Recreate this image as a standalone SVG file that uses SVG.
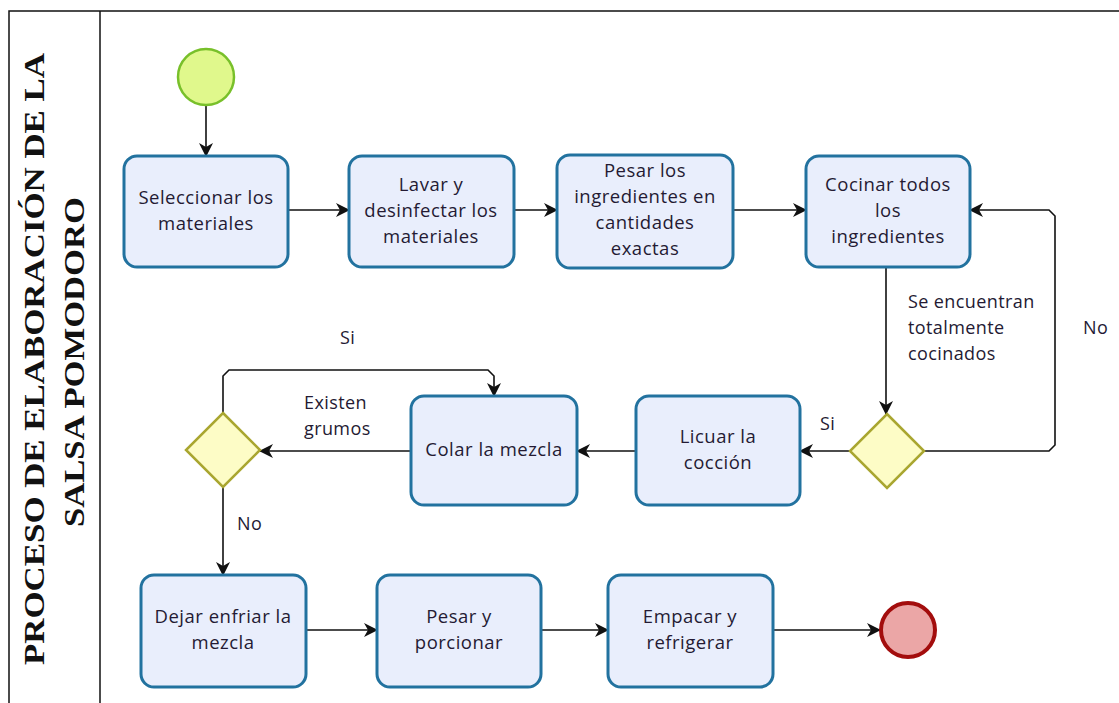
<svg xmlns="http://www.w3.org/2000/svg" width="1119" height="703" viewBox="0 0 1119 703">
  <style>
    .task { fill: #e9eefc; stroke: #22729f; stroke-width: 3; }
    .gw { fill: #fdfcc6; stroke: #a9a630; stroke-width: 2.5; }
    .lbl { font-family: "Open Sans", "Noto Sans", sans-serif; font-size: 18.5px; letter-spacing: 0.5px; fill: #241a33; text-anchor: middle; }
    .note { font-family: "Open Sans", "Noto Sans", sans-serif; font-size: 18px; letter-spacing: 0.4px; fill: #241a33; }
    .flow { fill: none; stroke: #111; stroke-width: 1.6; }
    .frame { fill: none; stroke: #111; stroke-width: 1.5; }
    .title { font-family: "Liberation Serif", "Times New Roman", serif; font-weight: bold; font-size: 30px; fill: #111; text-anchor: middle; }
  </style>
  <defs>
    <marker id="arrow" viewBox="0 0 14 14" refX="13" refY="7" markerWidth="14" markerHeight="14" markerUnits="userSpaceOnUse" orient="auto">
      <path d="M0,0 L14,7 L0,14 L4,7 z" fill="#111"/>
    </marker>
  </defs>

  <rect width="1119" height="703" fill="#fff"/>

  <!-- pool frame -->
  <g id="pool">
    <path class="frame" d="M9,703 V11 H1119"/>
    <line class="frame" x1="100" y1="11" x2="100" y2="703"/>
    <text class="title" transform="translate(44,359) rotate(-90)" textLength="612" lengthAdjust="spacingAndGlyphs">PROCESO DE ELABORACIÓN DE LA</text>
    <text class="title" transform="translate(84,362) rotate(-90)" textLength="330" lengthAdjust="spacingAndGlyphs">SALSA POMODORO</text>
  </g>

  <!-- connectors -->
  <g id="connectors">
    <path class="flow" marker-end="url(#arrow)" d="M206,105 V156"/>
    <path class="flow" marker-end="url(#arrow)" d="M288,210 H349"/>
    <path class="flow" marker-end="url(#arrow)" d="M514,210 H557"/>
    <path class="flow" marker-end="url(#arrow)" d="M733,210 H806"/>
    <path class="flow" marker-end="url(#arrow)" d="M886,267 V414"/>
    <path class="flow" marker-end="url(#arrow)" d="M924,451 H1049 L1055,445 V216 L1049,210 H970"/>
    <path class="flow" marker-end="url(#arrow)" d="M850,451 H800"/>
    <path class="flow" marker-end="url(#arrow)" d="M636,451 H577"/>
    <path class="flow" marker-end="url(#arrow)" d="M411,451 H260"/>
    <path class="flow" marker-end="url(#arrow)" d="M223,413 V376 L229,370 H488 L494,376 V396"/>
    <path class="flow" marker-end="url(#arrow)" d="M223,487 V575"/>
    <path class="flow" marker-end="url(#arrow)" d="M306,630 H377"/>
    <path class="flow" marker-end="url(#arrow)" d="M541,630 H608"/>
    <path class="flow" marker-end="url(#arrow)" d="M773,630 H880"/>
    <text class="note" x="908" y="308">Se encuentran</text>
    <text class="note" x="908" y="334">totalmente</text>
    <text class="note" x="908" y="360">cocinados</text>
    <text class="note" x="1083" y="334">No</text>
    <text class="note" x="820" y="430">Si</text>
    <text class="note" x="340" y="344">Si</text>
    <text class="note" x="304" y="409">Existen</text>
    <text class="note" x="304" y="435">grumos</text>
    <text class="note" x="237" y="530">No</text>
  </g>

  <g id="start">
    <circle cx="206" cy="77" r="28" fill="#e0f88c" stroke="#78c02a" stroke-width="2.5"/>
  </g>

  <g id="seleccionar">
    <rect class="task" x="124" y="156" width="164" height="111" rx="13"/>
    <text class="lbl" x="206" y="204">Seleccionar los</text>
    <text class="lbl" x="206" y="230">materiales</text>
  </g>

  <g id="lavar">
    <rect class="task" x="349" y="156" width="165" height="111" rx="13"/>
    <text class="lbl" x="431" y="191">Lavar y</text>
    <text class="lbl" x="431" y="217">desinfectar los</text>
    <text class="lbl" x="431" y="243">materiales</text>
  </g>

  <g id="pesar-ingredientes">
    <rect class="task" x="557" y="155" width="176" height="113" rx="13"/>
    <text class="lbl" x="645" y="177">Pesar los</text>
    <text class="lbl" x="645" y="203">ingredientes en</text>
    <text class="lbl" x="645" y="229">cantidades</text>
    <text class="lbl" x="645" y="255">exactas</text>
  </g>

  <g id="cocinar">
    <rect class="task" x="806" y="156" width="164" height="111" rx="13"/>
    <text class="lbl" x="888" y="191">Cocinar todos</text>
    <text class="lbl" x="888" y="217">los</text>
    <text class="lbl" x="888" y="243">ingredientes</text>
  </g>

  <g id="gw-cocinado">
    <polygon class="gw" points="887,414 924,451 887,488 850,451"/>
  </g>

  <g id="licuar">
    <rect class="task" x="636" y="396" width="164" height="109" rx="13"/>
    <text class="lbl" x="718" y="443">Licuar la</text>
    <text class="lbl" x="718" y="469">cocción</text>
  </g>

  <g id="colar">
    <rect class="task" x="411" y="396" width="166" height="109" rx="13"/>
    <text class="lbl" x="494" y="456">Colar la mezcla</text>
  </g>

  <g id="gw-grumos">
    <polygon class="gw" points="223,413 260,450 223,487 186,450"/>
  </g>

  <g id="enfriar">
    <rect class="task" x="141" y="575" width="165" height="112" rx="13"/>
    <text class="lbl" x="223" y="623">Dejar enfriar la</text>
    <text class="lbl" x="223" y="649">mezcla</text>
  </g>

  <g id="porcionar">
    <rect class="task" x="377" y="575" width="164" height="112" rx="13"/>
    <text class="lbl" x="459" y="623">Pesar y</text>
    <text class="lbl" x="459" y="649">porcionar</text>
  </g>

  <g id="empacar">
    <rect class="task" x="608" y="575" width="165" height="112" rx="13"/>
    <text class="lbl" x="690" y="623">Empacar y</text>
    <text class="lbl" x="690" y="649">refrigerar</text>
  </g>

  <g id="end">
    <circle cx="908" cy="630" r="27" fill="#eba6a6" stroke="#a30d0d" stroke-width="4"/>
  </g>
</svg>
